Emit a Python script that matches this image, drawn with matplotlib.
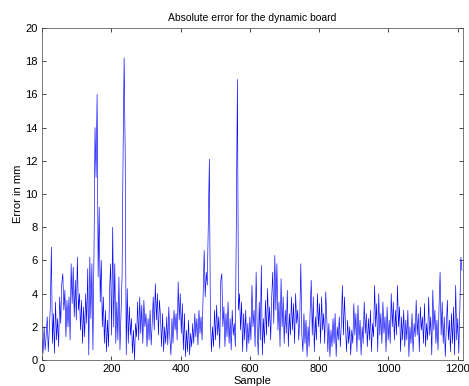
# Absolute error of the dynamic board, per sample (MATLAB-style line plot).

import numpy as np
import matplotlib.pyplot as plt

plt.rcParams['font.family'] = ['Liberation Sans', 'DejaVu Sans']

# Error values, one value every 3 samples.
step = 3
err = [
    1.2, 0.4, 2.0, 0.6, 1.5, 2.6, 0.5, 1.8, 3.2, 6.8, 1.0, 2.8, 0.4, 3.5, 1.2, 2.5, 0.8, 3.8, 2.2, 4.6,
    5.2, 3.0, 4.2, 1.4, 3.6, 2.0, 3.8, 1.2, 5.8, 3.4, 5.6, 2.6, 4.8, 2.4, 6.2, 3.0, 4.0, 1.8, 3.6, 1.0,
    3.2, 1.4, 4.0, 2.2, 5.5, 0.3, 6.2, 2.5, 5.8, 0.6, 6.5, 14.0, 11.0, 16.0, 5.0, 9.2, 3.5, 6.0, 2.0, 3.8,
    1.0, 3.0, 0.5, 2.4, 0.8, 4.2, 5.8, 1.5, 8.0, 2.0, 5.8, 1.0, 3.5, 1.2, 5.0, 0.6, 2.8, 5.0, 12.5, 18.2,
    12.6, 0.3, 4.3, 1.0, 3.2, 1.5, 2.5, 0.4, 1.8, 0.0, 2.2, 1.4, 3.5, 1.2, 3.8, 1.6, 3.3, 1.0, 3.6, 2.0,
    2.8, 0.8, 2.5, 1.2, 3.0, 0.9, 2.2, 3.8, 1.8, 4.6, 2.4, 4.0, 1.5, 3.6, 2.6, 0.8, 2.8, 0.5, 2.0, 1.0,
    2.6, 0.9, 3.2, 1.4, 0.3, 2.5, 1.0, 3.0, 1.8, 2.8, 1.2, 4.7, 2.4, 4.0, 1.6, 3.4, 0.6, 2.8, 0.2, 1.8,
    0.5, 2.4, 0.3, 1.6, 0.8, 2.2, 1.0, 2.8, 1.4, 2.5, 0.9, 3.0, 1.6, 2.6, 1.2, 4.0, 6.6, 3.8, 5.3, 4.5,
    8.5, 12.1, 2.5, 0.5, 2.0, 0.8, 3.0, 1.2, 3.3, 1.5, 2.6, 0.7, 4.8, 5.2, 2.0, 3.2, 0.8, 2.8, 1.4, 3.5,
    1.0, 2.5, 0.6, 3.0, 1.5, 2.2, 0.8, 9.0, 16.9, 3.0, 4.0, 1.8, 3.5, 0.5, 2.8, 1.2, 3.0, 0.5, 2.2, 1.0,
    2.6, 1.2, 4.5, 2.0, 3.0, 0.8, 5.3, 2.0, 0.3, 3.5, 1.2, 5.7, 0.3, 2.5, 1.0, 3.6, 1.5, 4.3, 2.0, 3.2,
    1.2, 3.8, 5.3, 2.2, 6.3, 3.0, 5.8, 1.8, 3.5, 0.8, 4.9, 2.0, 3.8, 1.0, 3.0, 1.6, 4.2, 0.8, 2.8, 1.5,
    3.8, 1.8, 3.4, 1.0, 4.0, 2.2, 3.0, 1.2, 2.6, 5.8, 1.5, 0.5, 2.8, 1.0, 2.4, 0.2, 2.0, 0.8, 3.0, 4.8,
    1.5, 3.8, 0.5, 2.6, 1.2, 4.0, 2.0, 3.4, 1.0, 3.8, 1.8, 2.8, 1.0, 4.1, 2.5, 0.5, 2.2, 0.2, 1.8, 0.8,
    2.5, 1.0, 2.8, 0.2, 2.0, 1.2, 2.6, 0.8, 2.2, 4.5, 1.5, 3.8, 2.0, 0.5, 2.4, 1.0, 2.0, 0.3, 1.8, 1.0,
    3.4, 1.5, 2.8, 0.5, 3.3, 1.2, 2.4, 0.3, 2.0, 1.0, 3.5, 1.6, 2.8, 0.8, 2.5, 1.2, 3.0, 0.5, 2.2, 1.4,
    4.5, 2.0, 3.4, 0.5, 4.0, 1.5, 2.8, 1.0, 3.5, 1.6, 2.6, 0.5, 3.2, 1.2, 2.4, 1.0, 4.0, 2.0, 3.5, 1.2,
    3.0, 1.5, 4.5, 2.0, 3.2, 0.5, 2.6, 1.2, 3.0, 0.8, 2.4, 1.2, 3.0, 0.2, 2.0, 1.0, 2.8, 0.5, 2.2, 1.4,
    3.6, 1.5, 2.8, 0.5, 3.2, 1.8, 2.6, 1.0, 3.4, 0.8, 2.2, 1.2, 3.8, 1.5, 2.6, 0.3, 4.2, 1.8, 3.0, 1.0,
    2.4, 0.6, 3.2, 5.3, 1.5, 3.5, 1.0, 2.6, 0.2, 2.0, 3.6, 1.2, 2.4, 0.5, 2.8, 1.0, 3.2, 0.3, 4.5, 1.2,
    2.5, 0.4, 3.0, 6.2, 5.4,
]
sample = np.arange(len(err)) * step

xticks = [0, 200, 400, 600, 800, 1000, 1200]
yticks = [0, 2, 4, 6, 8, 10, 12, 14, 16, 18, 20]

fig = plt.figure(figsize=(4.69, 3.86), dpi=100)
ax = fig.add_axes([0.0896, 0.0674, 0.8975, 0.8601])

ax.plot(sample, err, color='blue', linewidth=0.45)

ax.set_xlim(0, 1215)
ax.set_ylim(0, 20)
ax.set_xticks(xticks)
ax.set_yticks(yticks)
ax.tick_params(direction='in', top=True, right=True, length=3, width=0.5,
               labelsize=8, pad=3, colors='black')
for s in ax.spines.values():
    s.set_linewidth(0.5)
    s.set_color('#444444')

ax.set_title("Absolute error for the dynamic board", fontsize=7.5, pad=5)
ax.set_xlabel("Sample", fontsize=8, labelpad=1)
ax.set_ylabel("Error in mm", fontsize=8, labelpad=2)

plt.savefig("out.png", dpi=100)
